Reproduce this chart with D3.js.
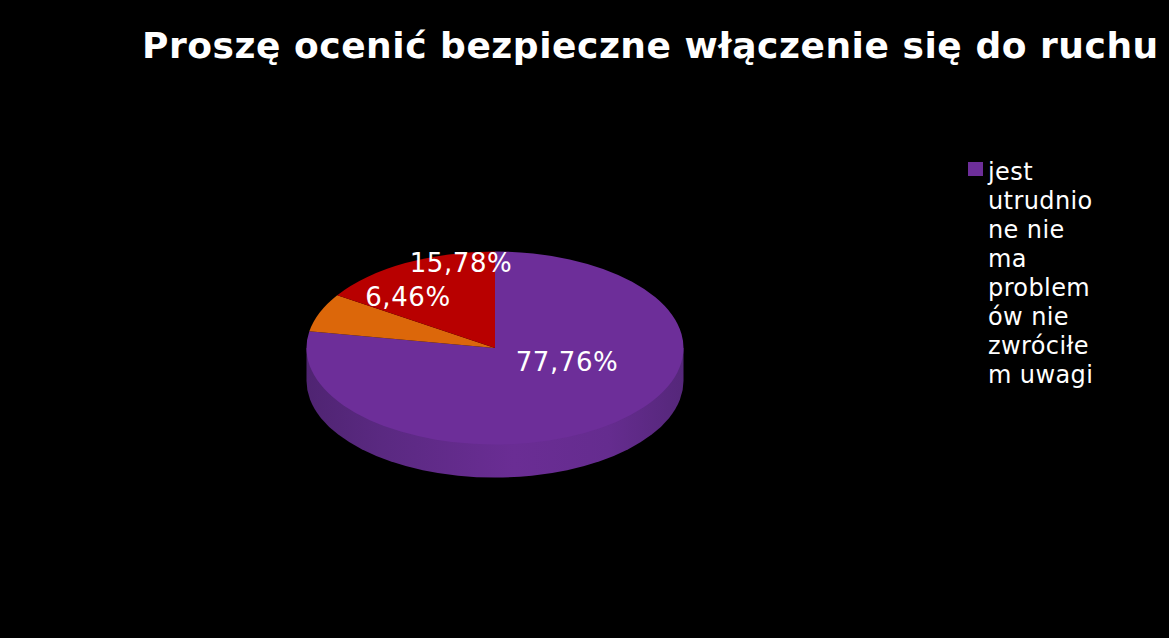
<!DOCTYPE html>
<html><head><meta charset="utf-8">
<script src="https://cdn.jsdelivr.net/npm/d3@7/dist/d3.min.js"></script>
<style>html,body{margin:0;padding:0;background:#000;overflow:hidden}svg{display:block}text{font-family:"DejaVu Sans";fill:#fff}</style>
</head><body><svg id="c" width="1169" height="638"></svg>
<script>
const title = "Proszę ocenić bezpieczne włączenie się do ruchu";
const categories = ["jest utrudnione","nie ma problemów","nie zwróciłem uwagi"];
const values = [77.76, 6.46, 15.78];
const valueLabels = ["77,76%","6,46%","15,78%"];
const colors = ["#6d2e99","#dc670a","#b80000"];
const legendLines = ["jest","utrudnio","ne nie","ma","problem","ów nie","zwróciłe","m uwagi"];

const cx=495, cy=348, rx=188.5, ry=96.5, depth=33;
const svg=d3.select("#c");
svg.append("rect").attr("width",1169).attr("height",638).attr("fill","#000");

const defs=svg.append("defs");
const g=defs.append("linearGradient").attr("id","wall").attr("x1",0).attr("x2",1).attr("y1",0).attr("y2",0);
[[0,"#4f2472"],[0.2,"#5a2981"],[0.55,"#6a2d94"],[0.8,"#652c8f"],[1,"#55277a"]].forEach(s=>g.append("stop").attr("offset",s[0]).attr("stop-color",s[1]));

// side wall
svg.append("path")
  .attr("d",`M${cx-rx},${cy}V${cy+depth}A${rx},${ry} 0 0 0 ${cx+rx},${cy+depth}V${cy}Z`)
  .attr("fill","url(#wall)");

// top face
const pie=d3.pie().sort(null).value(d=>d)(values);
const arc=d3.arc().innerRadius(0).outerRadius(rx);
svg.append("g").attr("transform",`translate(${cx},${cy}) scale(1,${ry/rx})`)
  .selectAll("path").data(pie).join("path")
  .attr("d",arc).attr("fill",(d,i)=>colors[i]);

// value labels
const labelPos=[[567,371],[408,306],[461,272]];
svg.selectAll("text.v").data(valueLabels).join("text").attr("class","v")
  .attr("x",(d,i)=>labelPos[i][0]).attr("y",(d,i)=>labelPos[i][1])
  .attr("text-anchor","middle").attr("font-size",26).attr("letter-spacing",0.6).text(d=>d);

// title
svg.append("text").attr("x",142).attr("y",58).attr("font-size",36).attr("font-weight","bold").attr("letter-spacing",0.54).text(title);

// legend
svg.append("rect").attr("x",968).attr("y",162).attr("width",15).attr("height",14).attr("fill",colors[0]);
svg.selectAll("text.l").data(legendLines).join("text").attr("class","l")
  .attr("x",988).attr("y",(d,i)=>180+i*29).attr("font-size",24).attr("letter-spacing",0.4).text(d=>d);
</script></body></html>
